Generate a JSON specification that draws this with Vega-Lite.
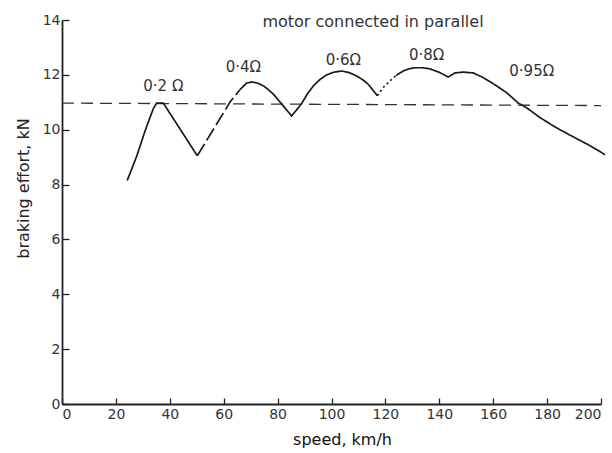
{
  "$schema": "https://vega.github.io/schema/vega-lite/v6.json",
  "autosize": "none",
  "width": 539,
  "height": 384,
  "padding": {"left": 62, "top": 20, "right": 11, "bottom": 49},
  "background": "white",
  "config": {
    "view": {"stroke": null},
    "font": "DejaVu Sans",
    "axis": {"grid": false, "domainColor": "#222", "domainWidth": 1.8, "tickColor": "#222", "tickWidth": 1.3, "labelColor": "#333", "titleColor": "#222", "labelFont": "DejaVu Sans", "titleFont": "DejaVu Sans", "titleFontWeight": "normal", "labelFontSize": 14, "titleFontSize": 16}
  },
  "datasets": {
    "curve": [
      {"speed": 24.2, "effort": 8.15, "seg": 1, "phase": "resistor"},
      {"speed": 26, "effort": 8.6, "seg": 1, "phase": "resistor"},
      {"speed": 27.7, "effort": 9.03, "seg": 1, "phase": "resistor"},
      {"speed": 29.3, "effort": 9.5, "seg": 1, "phase": "resistor"},
      {"speed": 30.8, "effort": 9.95, "seg": 1, "phase": "resistor"},
      {"speed": 32.4, "effort": 10.38, "seg": 1, "phase": "resistor"},
      {"speed": 33.9, "effort": 10.77, "seg": 1, "phase": "resistor"},
      {"speed": 35.1, "effort": 10.97, "seg": 1, "phase": "resistor"},
      {"speed": 37.6, "effort": 10.97, "seg": 1, "phase": "resistor"},
      {"speed": 50.2, "effort": 9.05, "seg": 1, "phase": "resistor"},
      {"speed": 50.2, "effort": 9.05, "seg": 2, "phase": "switching"},
      {"speed": 62.3, "effort": 11.0, "seg": 2, "phase": "switching"},
      {"speed": 66.0, "effort": 11.46, "seg": 2, "phase": "switching"},
      {"speed": 66.0, "effort": 11.46, "seg": 3, "phase": "resistor"},
      {"speed": 68.5, "effort": 11.7, "seg": 3, "phase": "resistor"},
      {"speed": 70.4, "effort": 11.74, "seg": 3, "phase": "resistor"},
      {"speed": 72.6, "effort": 11.7, "seg": 3, "phase": "resistor"},
      {"speed": 74.7, "effort": 11.6, "seg": 3, "phase": "resistor"},
      {"speed": 76.6, "effort": 11.46, "seg": 3, "phase": "resistor"},
      {"speed": 78.4, "effort": 11.3, "seg": 3, "phase": "resistor"},
      {"speed": 80.3, "effort": 11.08, "seg": 3, "phase": "resistor"},
      {"speed": 82.1, "effort": 10.87, "seg": 3, "phase": "resistor"},
      {"speed": 85.2, "effort": 10.5, "seg": 3, "phase": "resistor"},
      {"speed": 88.9, "effort": 10.95, "seg": 3, "phase": "resistor"},
      {"speed": 91.0, "effort": 11.3, "seg": 3, "phase": "resistor"},
      {"speed": 93.3, "effort": 11.6, "seg": 3, "phase": "resistor"},
      {"speed": 95.7, "effort": 11.83, "seg": 3, "phase": "resistor"},
      {"speed": 98.2, "effort": 12.0, "seg": 3, "phase": "resistor"},
      {"speed": 101.0, "effort": 12.1, "seg": 3, "phase": "resistor"},
      {"speed": 103.8, "effort": 12.14, "seg": 3, "phase": "resistor"},
      {"speed": 106.6, "effort": 12.08, "seg": 3, "phase": "resistor"},
      {"speed": 109.3, "effort": 11.96, "seg": 3, "phase": "resistor"},
      {"speed": 111.6, "effort": 11.82, "seg": 3, "phase": "resistor"},
      {"speed": 113.7, "effort": 11.65, "seg": 3, "phase": "resistor"},
      {"speed": 117.0, "effort": 11.24, "seg": 3, "phase": "resistor"},
      {"speed": 117.0, "effort": 11.24, "seg": 4, "phase": "transition"},
      {"speed": 119.3, "effort": 11.55, "seg": 4, "phase": "transition"},
      {"speed": 121.7, "effort": 11.78, "seg": 4, "phase": "transition"},
      {"speed": 124.0, "effort": 11.98, "seg": 4, "phase": "transition"},
      {"speed": 124.0, "effort": 11.98, "seg": 5, "phase": "resistor"},
      {"speed": 126.6, "effort": 12.14, "seg": 5, "phase": "resistor"},
      {"speed": 128.8, "effort": 12.22, "seg": 5, "phase": "resistor"},
      {"speed": 131.0, "effort": 12.26, "seg": 5, "phase": "resistor"},
      {"speed": 133.8, "effort": 12.26, "seg": 5, "phase": "resistor"},
      {"speed": 136.5, "effort": 12.22, "seg": 5, "phase": "resistor"},
      {"speed": 140.3, "effort": 12.08, "seg": 5, "phase": "resistor"},
      {"speed": 143.3, "effort": 11.92, "seg": 5, "phase": "resistor"},
      {"speed": 145.8, "effort": 12.07, "seg": 5, "phase": "resistor"},
      {"speed": 148.9, "effort": 12.1, "seg": 5, "phase": "resistor"},
      {"speed": 152.6, "effort": 12.07, "seg": 5, "phase": "resistor"},
      {"speed": 156.3, "effort": 11.9, "seg": 5, "phase": "resistor"},
      {"speed": 160.0, "effort": 11.68, "seg": 5, "phase": "resistor"},
      {"speed": 165.0, "effort": 11.35, "seg": 5, "phase": "resistor"},
      {"speed": 169.3, "effort": 10.97, "seg": 5, "phase": "resistor"},
      {"speed": 172.4, "effort": 10.8, "seg": 5, "phase": "resistor"},
      {"speed": 177.4, "effort": 10.44, "seg": 5, "phase": "resistor"},
      {"speed": 183.5, "effort": 10.07, "seg": 5, "phase": "resistor"},
      {"speed": 189.7, "effort": 9.74, "seg": 5, "phase": "resistor"},
      {"speed": 195.9, "effort": 9.42, "seg": 5, "phase": "resistor"},
      {"speed": 201.5, "effort": 9.09, "seg": 5, "phase": "resistor"}
    ],
    "labels": [
      {"speed": 37.6, "effort": 11.6, "text": "0·2 Ω"},
      {"speed": 67.3, "effort": 12.3, "text": "0·4Ω"},
      {"speed": 104.4, "effort": 12.55, "text": "0·6Ω"},
      {"speed": 135.3, "effort": 12.74, "text": "0·8Ω"},
      {"speed": 174.3, "effort": 12.14, "text": "0·95Ω"}
    ],
    "title": [
      {"speed": 115.4, "effort": 13.92, "text": "motor connected in parallel"}
    ],
    "limit": [
      {"speed": 0, "effort": 10.97},
      {"speed": 200, "effort": 10.88}
    ]
  },
  "layer": [
    {
      "data": {"name": "limit"},
      "mark": {"type": "line", "color": "#333", "strokeWidth": 1.3, "strokeDash": [12, 7]},
      "encoding": {
        "x": {"field": "speed", "type": "quantitative", "scale": {"domain": [0, 200], "nice": false},
          "axis": {"values": [0, 20, 40, 60, 80, 100, 120, 140, 160, 180, 200], "tickSize": -6, "labelPadding": 9, "title": "speed, km/h", "titlePadding": 10, "titleX": 280, "titleColor": "#111"}},
        "y": {"field": "effort", "type": "quantitative", "scale": {"domain": [0, 14], "nice": false},
          "axis": {"values": [0, 2, 4, 6, 8, 10, 12, 14], "tickSize": -7, "labelPadding": 9, "title": "braking effort, kN", "titlePadding": 11, "titleY": 168}}
      }
    },
    {
      "data": {"name": "curve"},
      "mark": {"type": "line", "color": "#1a1a1a", "strokeWidth": 1.7, "clip": false},
      "encoding": {
        "x": {"field": "speed", "type": "quantitative"},
        "y": {"field": "effort", "type": "quantitative"},
        "detail": {"field": "seg"},
        "strokeDash": {"field": "phase", "type": "nominal", "scale": {"domain": ["resistor", "switching", "transition"], "range": [[1, 0], [14, 4], [2, 3]]}, "legend": null}
      }
    },
    {
      "data": {"name": "labels"},
      "mark": {"type": "text", "fontSize": 15, "color": "#333", "font": "DejaVu Sans"},
      "encoding": {
        "x": {"field": "speed", "type": "quantitative"},
        "y": {"field": "effort", "type": "quantitative"},
        "text": {"field": "text"}
      }
    },
    {
      "data": {"name": "title"},
      "mark": {"type": "text", "fontSize": 16, "color": "#333", "font": "DejaVu Sans"},
      "encoding": {
        "x": {"field": "speed", "type": "quantitative"},
        "y": {"field": "effort", "type": "quantitative"},
        "text": {"field": "text"}
      }
    }
  ]
}
